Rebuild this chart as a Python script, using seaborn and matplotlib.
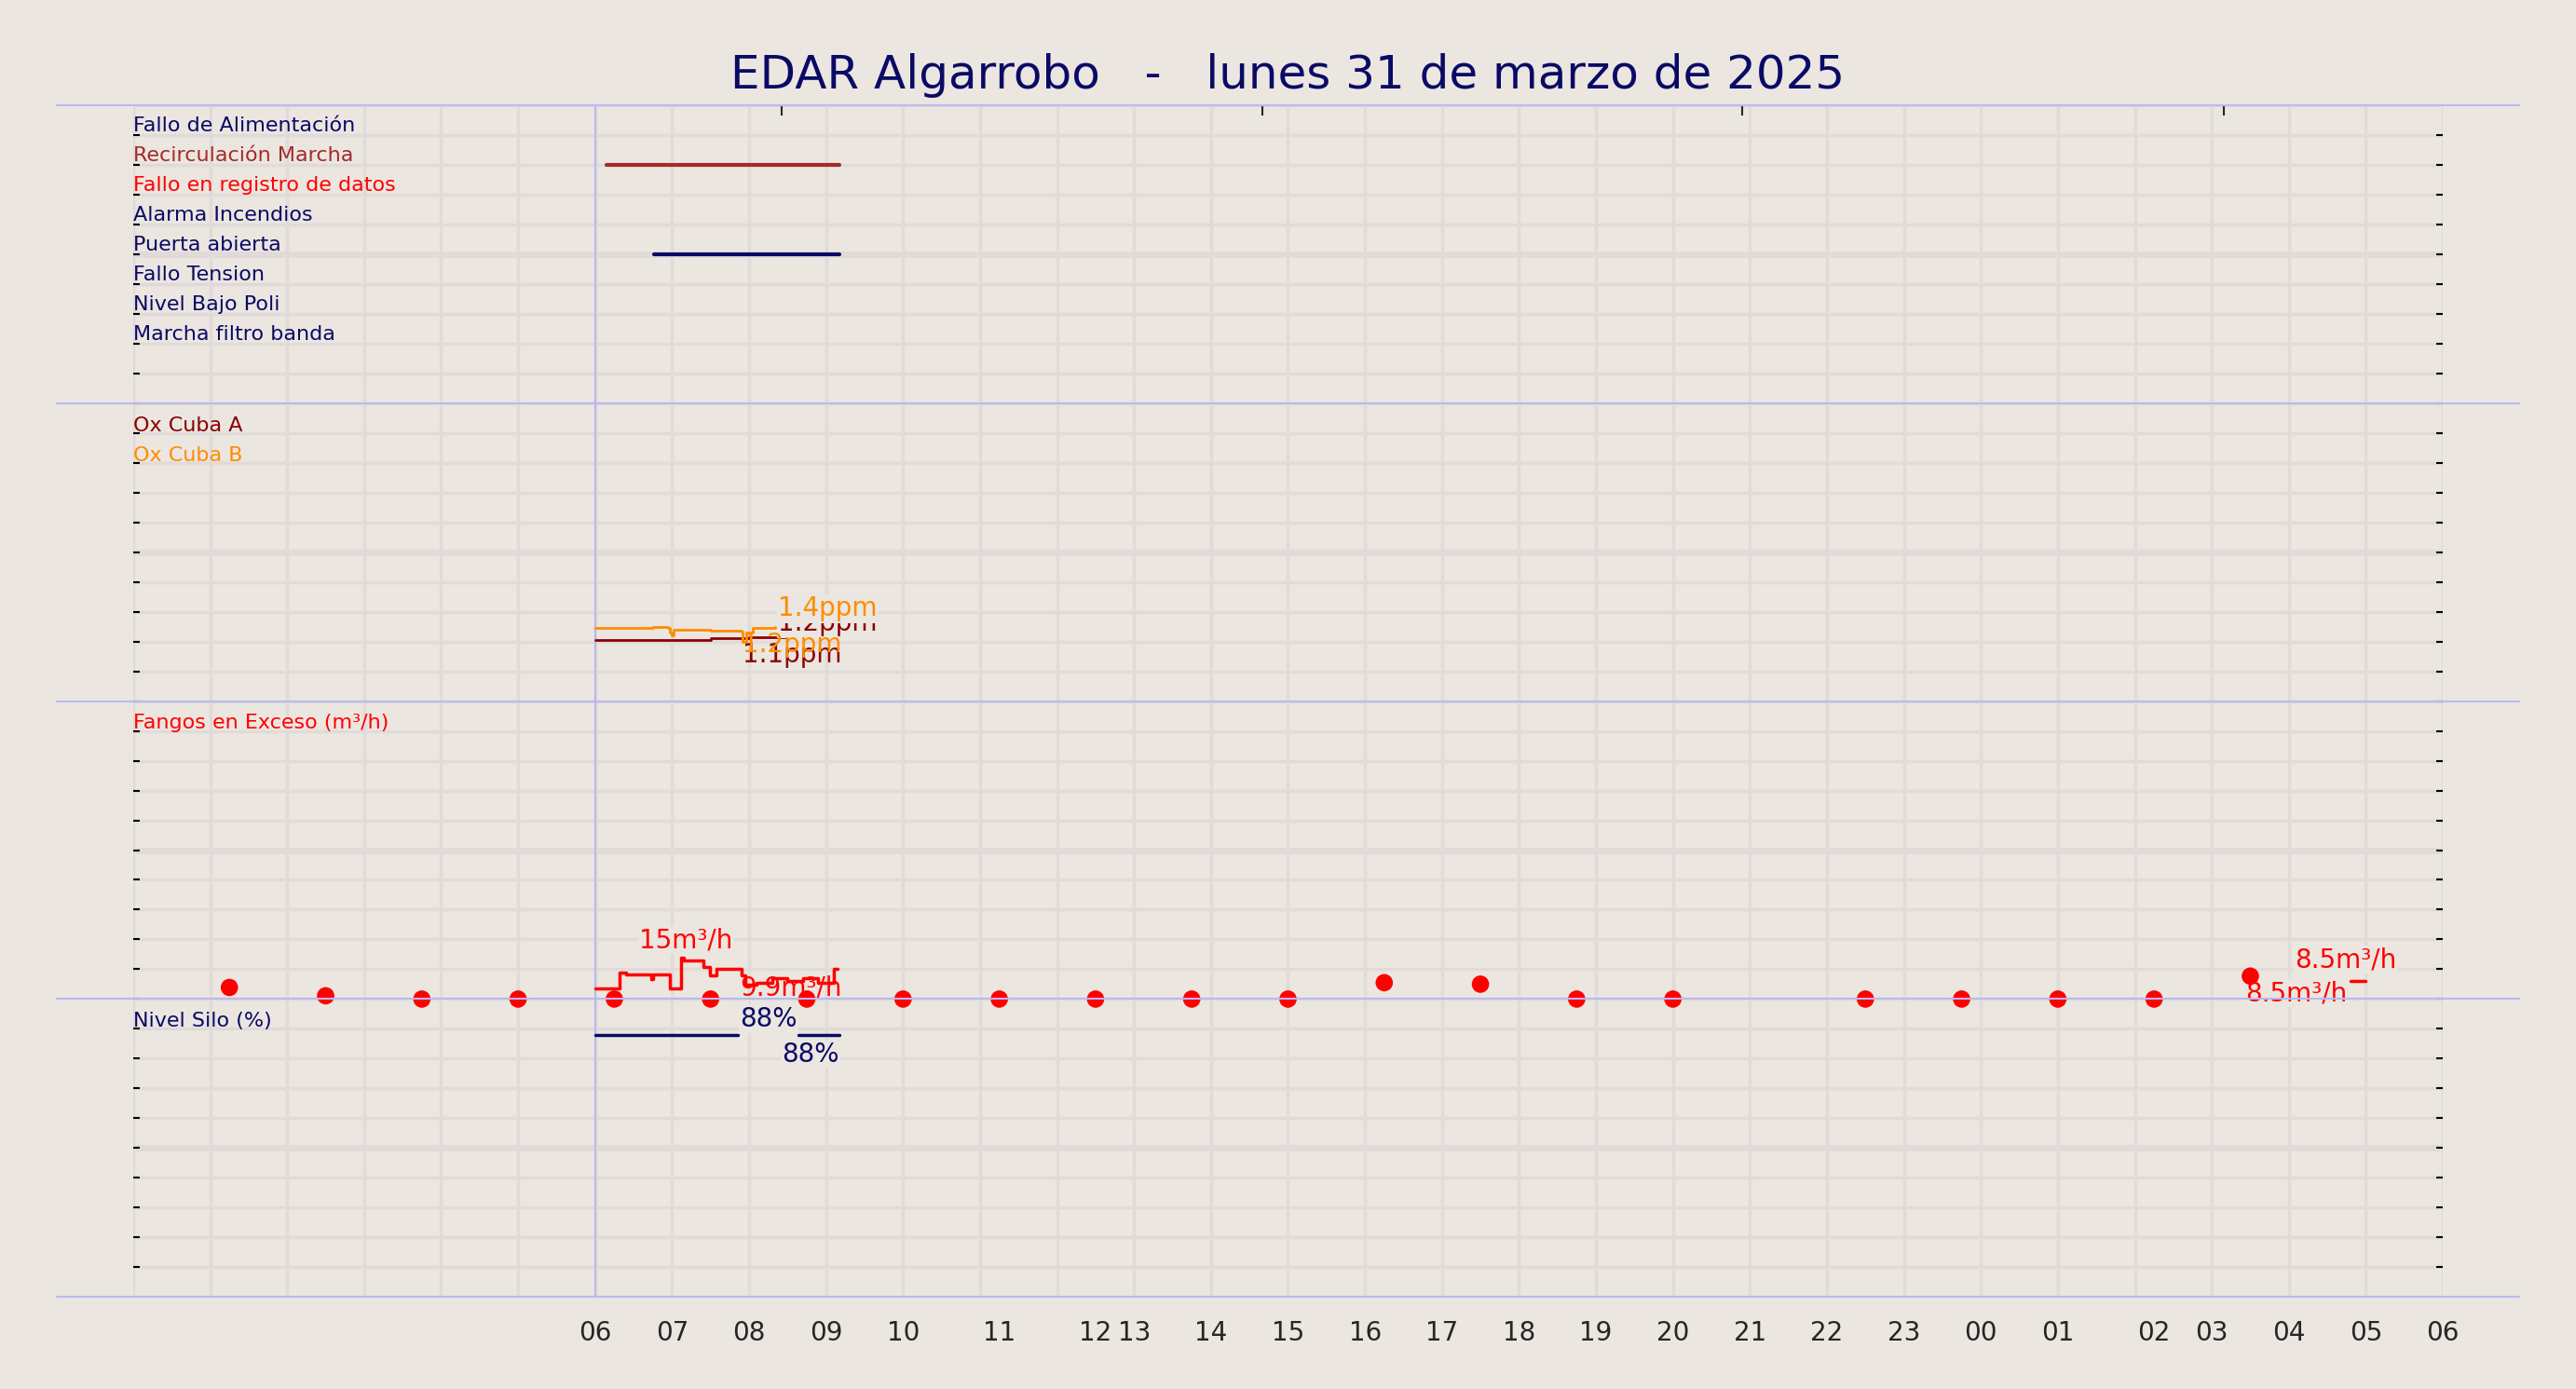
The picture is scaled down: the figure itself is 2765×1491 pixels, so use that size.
import numpy as np
import pandas as pd
import matplotlib.pyplot as plt
import seaborn as sns
from matplotlib.lines import Line2D

BG = '#ebe6e0'
NAVY = '#0a0a66'
BLUE_SEP = '#b9b9f2'
GRID = '#e0dbd8'

# --- data ---
alarm_labels = ['Fallo de Alimentación', 'Recirculación Marcha', 'Fallo en registro de datos',
                'Alarma Incendios', 'Puerta abierta', 'Fallo Tension', 'Nivel Bajo Poli',
                'Marcha filtro banda']
alarm_colors = [NAVY, '#a52a2a', 'red', NAVY, NAVY, NAVY, NAVY, NAVY]
recirc_x = [6.15, 9.17]
recirc_y = [38.0, 38.0]
puerta_x = [6.76, 9.17]
puerta_y = [35.0, 35.0]

oxb_x = [6.0, 6.6, 6.75, 6.95, 6.97, 7.0, 7.02, 7.5, 7.9, 7.92, 7.96, 8.05, 8.34]
oxb_y = [22.45, 22.45, 22.5, 22.45, 22.3, 22.2, 22.4, 22.35, 22.33, 22.0, 22.3, 22.45, 22.5]
oxa_x = [6.0, 6.5, 7.0, 7.5, 8.0, 8.5, 9.15]
oxa_y = [22.06, 22.06, 22.05, 22.1, 22.15, 22.2, 22.2]

fangos_x = [6.0, 6.32, 6.4, 6.73, 6.75, 6.97, 7.12, 7.15, 7.41, 7.49, 7.57, 7.9, 7.95,
            8.1, 8.3, 8.5, 8.7, 8.9, 9.1, 9.15]
fangos_y = [10.36, 10.9, 10.84, 10.66, 10.84, 10.36, 11.4, 11.3, 11.08, 10.78, 11.02, 10.78,
            10.48, 10.55, 10.7, 10.6, 10.7, 10.55, 11.0, 11.0]
fangos_tail_x = [28.8, 29.0]
fangos_tail_y = [10.62, 10.62]

dots_x = [1.25, 2.5, 3.75, 5.0, 6.25, 7.5, 8.75, 10.0, 11.25, 12.5, 13.75, 15.0, 16.25,
          17.5, 18.75, 20.0, 22.5, 23.75, 25.0, 26.25, 27.5]
dots_y = [10.39, 10.11, 10, 10, 10, 10, 10, 10, 10, 10, 10, 10, 10.55,
          10.5, 10, 10, 10, 10, 10, 10, 10.77]

silo_x1 = [6.0, 7.85]
silo_x2 = [8.64, 9.17]
silo_y = [8.8, 8.8]

tick_pos = [6, 7, 8, 9, 10, 11.25, 12.5, 13, 14, 15, 16, 17, 18, 19, 20, 21, 22, 23, 24,
            25, 26.25, 27, 28, 29, 30]
tick_lbl = ['06', '07', '08', '09', '10', '11', '12', '13', '14', '15', '16', '17', '18',
            '19', '20', '21', '22', '23', '00', '01', '02', '03', '04', '05', '06']

sns.set_theme(style='white', rc={'axes.facecolor': BG, 'figure.facecolor': BG})
fig = plt.figure(figsize=(27.65, 14.91), dpi=100)
ax = fig.add_axes([0.0517, 0.0662, 0.8966, 0.8581])
ax.set_xlim(0, 30)
ax.set_ylim(0, 40)

# grid
for h in range(0, 31):
    ax.axvline(h, color=GRID, lw=2.5, zorder=0)
for v in range(0, 41):
    ax.axhline(v, color=GRID, lw=5 if v % 10 == 5 else 2.5, zorder=0)
ax.axvline(6, color=BLUE_SEP, lw=1.5, zorder=1)

for s in ax.spines.values():
    s.set_visible(False)

# panel separators extending past the axes
for v in [0, 10, 20, 30, 40]:
    yf = 0.0662 + 0.8581 * v / 40
    fig.add_artist(Line2D([0.022, 0.978], [yf, yf], color=BLUE_SEP, lw=1.5))

# alarm panel
for i, (lbl, c) in enumerate(zip(alarm_labels, alarm_colors)):
    ax.text(0.0, 39.3 - i, lbl, color=c, fontsize=16, va='center', ha='left')
sns.lineplot(x=recirc_x, y=recirc_y, color='#a52a2a', lw=3, ax=ax)
sns.lineplot(x=puerta_x, y=puerta_y, color=NAVY, lw=3, ax=ax)

# oxygen panel
ax.text(0.0, 29.25, 'Ox Cuba A', color='#8b0000', fontsize=16, va='center')
ax.text(0.0, 28.25, 'Ox Cuba B', color='darkorange', fontsize=16, va='center')
ax.plot(oxa_x, oxa_y, drawstyle='steps-post', color='#8b0000', lw=2)
ax.plot(oxb_x, oxb_y, drawstyle='steps-post', color='darkorange', lw=2)
box = dict(facecolor=BG, edgecolor='none', pad=1)
ax.text(8.38, 22.6, '1.2ppm', color='#8b0000', fontsize=20, va='center', bbox=box)
ax.text(8.38, 23.1, '1.4ppm', color='darkorange', fontsize=20, va='center', bbox=box)
ax.text(7.92, 21.55, '1.1ppm', color='#8b0000', fontsize=20, va='center')
ax.text(7.92, 21.9, '1.2ppm', color='darkorange', fontsize=20, va='center')

# fangos panel
ax.text(0.0, 19.28, 'Fangos en Exceso (m³/h)', color='red', fontsize=16, va='center')
ax.plot(fangos_x, fangos_y, drawstyle='steps-post', color='red', lw=2.5)
ax.plot(fangos_tail_x, fangos_tail_y, color='red', lw=2.5)
sns.scatterplot(x=dots_x, y=dots_y, color='red', s=180, edgecolor='none', ax=ax, zorder=5)
ax.text(6.57, 11.98, '15m³/h', color='red', fontsize=20, va='center', bbox=box)
ax.text(7.88, 10.36, '9.9m³/h', color='red', fontsize=20, va='center')
ax.text(28.08, 11.3, '8.5m³/h', color='red', fontsize=20, va='center', bbox=box)
ax.text(27.44, 10.2, '8.5m³/h', color='red', fontsize=20, va='center', bbox=box)

# silo panel
ax.text(0.0, 9.26, 'Nivel Silo (%)', color=NAVY, fontsize=16, va='center')
ax.plot(silo_x1, silo_y, color=NAVY, lw=2.5)
ax.plot(silo_x2, silo_y, color=NAVY, lw=2.5)
ax.text(7.88, 9.34, '88%', color=NAVY, fontsize=20, va='center', bbox=box)
ax.text(8.43, 8.14, '88%', color=NAVY, fontsize=20, va='center', bbox=box)

# ticks
ax.set_xticks(tick_pos)
ax.set_xticklabels(tick_lbl, fontsize=20)
ax.set_yticks(range(1, 40))
ax.set_yticklabels([])
ax.tick_params(axis='y', left=True, right=True, direction='in', length=5, width=1.5, color='black')
ax.tick_params(axis='x', bottom=False, pad=12)
sec = ax.secondary_xaxis('top')
sec.set_xticks([8.42, 14.67, 20.9, 27.15])
sec.set_xticklabels([])
sec.tick_params(direction='in', length=8, width=1.5)
for s in sec.spines.values():
    s.set_visible(False)

fig.text(0.5, 0.9456, 'EDAR Algarrobo   -   lunes 31 de marzo de 2025', color=NAVY,
         fontsize=36, ha='center', va='center')

fig.savefig('out.png', dpi=100, facecolor=BG)
